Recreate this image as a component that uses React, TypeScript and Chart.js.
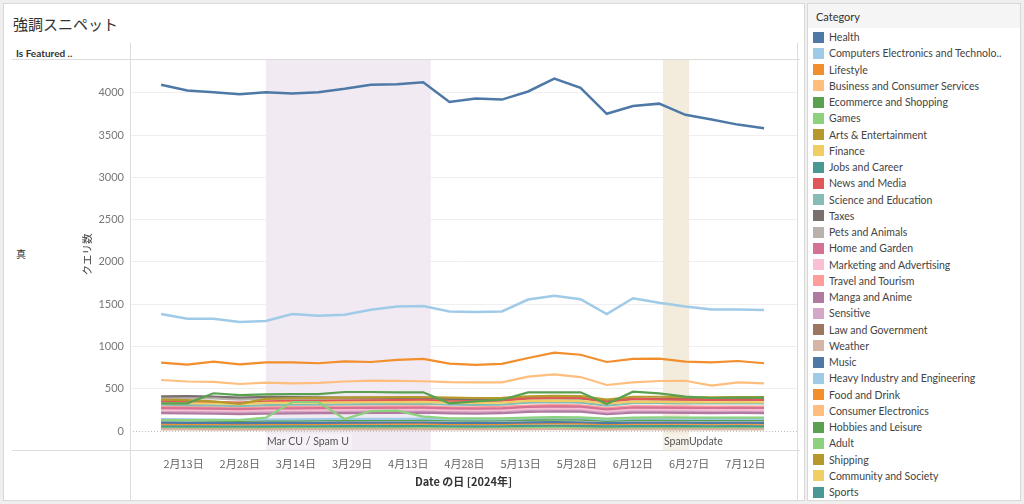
import React, { useEffect, useRef } from 'react';
import { Chart, registerables } from 'chart.js';

Chart.register(...registerables);

const FONT = 'Lato, "Noto Sans CJK JP", "Noto Sans", sans-serif';
const CJK = '"Noto Sans CJK JP", Lato, sans-serif';

const chartTitle = '強調スニペット';
const rowHeader = 'Is Featured ..';
const rowLabel = '真';
const yAxisTitle = 'クエリ数';
const xAxisTitle = 'Date の日 [2024年]';
const legendTitle = 'Category';

const weekDates = [
  '2024-02-07', '2024-02-14', '2024-02-21', '2024-02-28', '2024-03-06', '2024-03-13',
  '2024-03-20', '2024-03-27', '2024-04-03', '2024-04-10', '2024-04-17', '2024-04-24',
  '2024-05-01', '2024-05-08', '2024-05-15', '2024-05-22', '2024-05-29', '2024-06-05',
  '2024-06-12', '2024-06-19', '2024-06-26', '2024-07-03', '2024-07-10', '2024-07-17',
];

const tickDates = [
  '2024-02-13', '2024-02-28', '2024-03-14', '2024-03-29', '2024-04-13', '2024-04-28',
  '2024-05-13', '2024-05-28', '2024-06-12', '2024-06-27', '2024-07-12',
];
const tickLabels = [
  '2月13日', '2月28日', '3月14日', '3月29日', '4月13日', '4月28日',
  '5月13日', '5月28日', '6月12日', '6月27日', '7月12日',
];
const yTickValues = [0, 500, 1000, 1500, 2000, 2500, 3000, 3500, 4000];

const bandLabels = ['Mar CU / Spam U', 'SpamUpdate'];
const bandStarts = ['2024-03-06', '2024-06-20'];
const bandEnds = ['2024-04-19', '2024-06-27'];
const bandColors = ['#f1eaf3', '#f3ecdd'];

const categories = [
  'Health', 'Computers Electronics and Technolo..', 'Lifestyle', 'Business and Consumer Services',
  'Ecommerce and Shopping', 'Games', 'Arts & Entertainment', 'Finance', 'Jobs and Career',
  'News and Media', 'Science and Education', 'Taxes', 'Pets and Animals', 'Home and Garden',
  'Marketing and Advertising', 'Travel and Tourism', 'Manga and Anime', 'Sensitive',
  'Law and Government', 'Weather', 'Music', 'Heavy Industry and Engineering', 'Food and Drink',
  'Consumer Electronics', 'Hobbies and Leisure', 'Adult', 'Shipping', 'Community and Society', 'Sports',
];

const colors = [
  '#4e79a7', '#a0cbe8', '#f28e2b', '#ffbe7d', '#59a14f', '#8cd17d', '#b6992d', '#f1ce63', '#499894',
  '#e15759', '#86bcb6', '#79706e', '#bab0ac', '#d37295', '#fabfd2', '#ff9d9a', '#b07aa1', '#d4a6c8',
  '#9d7660', '#d7b5a6', '#4e79a7', '#a0cbe8', '#f28e2b', '#ffbe7d', '#59a14f', '#8cd17d', '#b6992d',
  '#f1ce63', '#499894',
];

const health = [4096, 4028, 4008, 3984, 4008, 3992, 4008, 4048, 4096, 4100, 4124, 3892, 3932, 3920, 4016, 4168, 4060, 3752, 3844, 3872, 3740, 3684, 3624, 3580];
const computers = [1383, 1328, 1328, 1289, 1301, 1383, 1363, 1375, 1434, 1473, 1477, 1414, 1406, 1414, 1555, 1598, 1559, 1383, 1570, 1516, 1473, 1438, 1438, 1430];
const lifestyle = [809, 785, 820, 789, 812, 812, 801, 824, 816, 840, 852, 797, 781, 793, 863, 926, 902, 816, 852, 855, 820, 812, 828, 801];
const business = [603, 585, 580, 556, 572, 562, 570, 585, 595, 592, 588, 578, 575, 576, 642, 670, 638, 544, 575, 591, 594, 536, 575, 564];
const ecommerce = [327, 327, 446, 425, 433, 437, 437, 461, 461, 457, 457, 327, 350, 370, 457, 457, 457, 320, 465, 445, 406, 390, 395, 395];
const games = [130, 130, 130, 130, 158, 343, 343, 142, 235, 240, 170, 150, 150, 150, 158, 165, 160, 145, 158, 160, 158, 158, 158, 158];
const arts = [370, 365, 350, 320, 380, 390, 392, 395, 398, 400, 402, 395, 390, 392, 410, 415, 412, 370, 405, 405, 400, 398, 400, 400];
const finance = [330, 328, 325, 318, 332, 335, 336, 338, 340, 342, 345, 335, 332, 335, 355, 360, 355, 325, 348, 345, 342, 340, 342, 340];
const jobs = [55, 54, 55, 53, 55, 56, 56, 57, 58, 58, 59, 56, 55, 56, 60, 62, 61, 55, 58, 58, 57, 56, 57, 56];
const news = [350, 345, 342, 335, 350, 355, 356, 358, 362, 365, 368, 350, 352, 360, 385, 395, 390, 345, 380, 375, 370, 368, 370, 368];
const science = [310, 305, 302, 295, 305, 310, 312, 315, 318, 320, 322, 310, 308, 312, 335, 340, 335, 300, 328, 330, 326, 325, 326, 325];
const taxes = [410, 412, 408, 395, 405, 400, 398, 396, 395, 392, 390, 380, 378, 380, 390, 392, 388, 360, 382, 380, 378, 375, 376, 375];
const pets = [390, 388, 385, 372, 382, 380, 378, 378, 376, 375, 374, 365, 362, 365, 378, 382, 378, 350, 372, 370, 368, 366, 368, 366];
const homeGarden = [270, 268, 265, 258, 266, 268, 270, 272, 274, 275, 276, 268, 265, 268, 285, 292, 288, 255, 278, 276, 274, 272, 273, 272];
const marketing = [250, 248, 245, 240, 246, 248, 250, 252, 254, 255, 256, 248, 246, 250, 265, 270, 266, 238, 258, 256, 254, 252, 253, 252];
const travel = [285, 283, 280, 272, 280, 282, 284, 286, 288, 290, 292, 282, 280, 284, 300, 308, 304, 270, 294, 292, 290, 288, 289, 288];
const manga = [210, 208, 205, 200, 206, 208, 210, 212, 214, 215, 216, 208, 206, 210, 225, 232, 228, 198, 218, 216, 214, 212, 213, 212];
const sensitive = [232, 230, 228, 222, 228, 230, 232, 234, 236, 238, 238, 230, 228, 232, 248, 255, 250, 220, 240, 238, 236, 235, 236, 235];
const law = [262, 260, 258, 250, 258, 260, 262, 265, 268, 270, 272, 262, 260, 265, 285, 295, 290, 252, 278, 276, 274, 272, 273, 272];
const weather = [18, 18, 17, 16, 17, 18, 18, 18, 19, 19, 19, 18, 18, 18, 20, 21, 20, 17, 19, 19, 19, 18, 19, 18];
const music = [98, 96, 95, 92, 95, 96, 97, 98, 99, 100, 100, 96, 95, 96, 102, 105, 103, 92, 99, 99, 98, 97, 98, 97];
const heavyIndustry = [140, 138, 136, 132, 136, 138, 140, 142, 143, 144, 145, 140, 138, 140, 150, 155, 152, 135, 146, 145, 144, 143, 144, 143];
const food = [85, 84, 83, 80, 83, 84, 85, 86, 87, 88, 88, 85, 84, 85, 90, 93, 91, 82, 87, 87, 86, 86, 86, 86];
const consumerElectronics = [68, 67, 66, 64, 66, 67, 68, 68, 69, 70, 70, 67, 66, 67, 71, 73, 72, 65, 69, 69, 68, 68, 68, 68];
const hobbies = [125, 124, 122, 118, 122, 123, 124, 126, 127, 128, 128, 124, 122, 124, 132, 135, 133, 120, 128, 128, 127, 126, 127, 126];
const adult = [42, 42, 41, 40, 41, 42, 42, 43, 43, 44, 44, 42, 42, 42, 45, 46, 45, 41, 43, 43, 43, 42, 43, 42];
const shipping = [30, 30, 29, 28, 29, 30, 30, 30, 31, 31, 31, 30, 29, 30, 32, 33, 32, 29, 31, 31, 30, 30, 30, 30];
const community = [38, 37, 37, 35, 37, 37, 38, 38, 39, 39, 39, 38, 37, 38, 40, 41, 40, 36, 39, 39, 38, 38, 38, 38];
const sports = [62, 61, 60, 58, 60, 61, 62, 62, 63, 64, 64, 61, 60, 61, 65, 67, 66, 59, 63, 63, 62, 62, 62, 62];

const seriesValues = [
  health, computers, lifestyle, business, ecommerce, games, arts, finance, jobs, news, science, taxes,
  pets, homeGarden, marketing, travel, manga, sensitive, law, weather, music, heavyIndustry, food,
  consumerElectronics, hobbies, adult, shipping, community, sports,
];

const BASE = Date.UTC(2024, 1, 13);
const dayOf = (s: string) => (new Date(s + 'T00:00:00Z').getTime() - BASE) / 86400000;
const tickDays = tickDates.map(dayOf);

const framePlugin = {
  id: 'frame',
  beforeDatasetsDraw(chart: any) {
    const { ctx, chartArea: a, scales } = chart;
    const x = scales.x;
    const y = scales.y;
    ctx.save();
    for (let i = 0; i < bandLabels.length; i++) {
      const x1 = x.getPixelForValue(dayOf(bandStarts[i]));
      const x2 = x.getPixelForValue(dayOf(bandEnds[i]));
      ctx.fillStyle = bandColors[i];
      ctx.fillRect(x1, a.top, x2 - x1, a.bottom - a.top);
    }
    const y0 = Math.round(y.getPixelForValue(0)) + 0.5;
    ctx.strokeStyle = '#bdbdbd';
    ctx.lineWidth = 1;
    ctx.setLineDash([1, 2]);
    ctx.beginPath();
    ctx.moveTo(a.left, y0);
    ctx.lineTo(a.right, y0);
    ctx.stroke();
    ctx.setLineDash([]);
    ctx.font = `10.5px ${FONT}`;
    ctx.textBaseline = 'middle';
    for (let i = 0; i < bandLabels.length; i++) {
      const x1 = x.getPixelForValue(dayOf(bandStarts[i]));
      const tw = ctx.measureText(bandLabels[i]).width;
      const ym = (y0 + a.bottom) / 2 + 1;
      ctx.fillStyle = 'rgba(255,255,255,0.35)';
      ctx.fillRect(x1, ym - 8, tw + 4, 16);
      ctx.fillStyle = '#555';
      ctx.fillText(bandLabels[i], x1 + 1, ym);
    }
    ctx.restore();
  },
  afterDraw(chart: any) {
    const { ctx, chartArea: a } = chart;
    ctx.save();
    ctx.strokeStyle = '#dcdcdc';
    ctx.lineWidth = 1;
    ctx.beginPath();
    ctx.moveTo(8, Math.round(a.top) + 0.5);
    ctx.lineTo(796, Math.round(a.top) + 0.5);
    ctx.moveTo(8, Math.round(a.bottom) + 0.5);
    ctx.lineTo(796, Math.round(a.bottom) + 0.5);
    ctx.moveTo(Math.round(a.left) + 0.5, 39);
    ctx.lineTo(Math.round(a.left) + 0.5, 496);
    ctx.moveTo(Math.round(a.right) + 0.5, 39);
    ctx.lineTo(Math.round(a.right) + 0.5, 496);
    ctx.stroke();
    ctx.restore();
  },
};

function LineChart() {
  const ref = useRef<HTMLCanvasElement | null>(null);
  useEffect(() => {
    if (!ref.current) return;
    const datasets = categories.map((c, i) => ({
      label: c,
      data: weekDates.map((d, j) => ({ x: dayOf(d), y: seriesValues[i][j] })),
      borderColor: colors[i],
      backgroundColor: colors[i],
      borderWidth: i < 2 ? 2.5 : 2.2,
      pointRadius: 0,
      tension: 0,
      fill: false,
    }));
    const chart = new Chart(ref.current, {
      type: 'line',
      data: { datasets },
      plugins: [framePlugin],
      options: {
        animation: false,
        responsive: true,
        maintainAspectRatio: false,
        layout: { padding: { left: 73, top: 55, right: 7, bottom: 0 } },
        plugins: { legend: { display: false }, tooltip: { enabled: false } },
        scales: {
          x: {
            type: 'linear',
            min: -14.3,
            max: 163.8,
            afterBuildTicks: (s: any) => { s.ticks = tickDays.map((v) => ({ value: v })); },
            afterFit: (s: any) => { s.height = 50; },
            grid: { display: false, drawTicks: false },
            border: { display: false },
            ticks: {
              autoSkip: false,
              maxRotation: 0,
              padding: 7,
              color: '#666',
              font: { family: CJK, size: 11 },
              callback: (_v: any, i: number) => tickLabels[i],
            },
            title: {
              display: true,
              text: xAxisTitle,
              color: '#333',
              font: { family: CJK, size: 11, weight: 'bold' },
              padding: { top: 0, bottom: 12 },
            },
          },
          y: {
            type: 'linear',
            min: -225,
            max: 4400,
            afterBuildTicks: (s: any) => { s.ticks = yTickValues.map((v) => ({ value: v })); },
            afterFit: (s: any) => { s.width = 53; },
            grid: {
              drawTicks: false,
              color: (c: any) => (c.tick && c.tick.value === 0 ? 'rgba(0,0,0,0)' : '#efefef'),
            },
            border: { display: false },
            ticks: {
              padding: 6,
              color: '#777',
              font: { family: FONT, size: 11 },
              callback: (v: any) => String(v),
            },
            title: {
              display: true,
              text: yAxisTitle,
              color: '#444',
              font: { family: CJK, size: 10.5 },
              padding: { top: 4, bottom: 0 },
            },
          },
        },
      },
    });
    return () => chart.destroy();
  }, []);
  return <canvas ref={ref} />;
}

export default function App() {
  return (
    <div style={{ position: 'fixed', left: 0, top: 0, width: 1024, height: 504, background: '#efefef', fontFamily: FONT, overflow: 'hidden' }}>
      <div style={{ position: 'absolute', left: 3, top: 3, width: 800, height: 496, background: '#fff', border: '1px solid #d9d9d9' }} />
      <div style={{ position: 'absolute', left: 807, top: 3, width: 212, height: 496, background: '#fff', border: '1px solid #d9d9d9' }} />
      <div style={{ position: 'absolute', left: 13, top: 12, fontFamily: CJK, fontSize: 15, color: '#333', lineHeight: '24px', whiteSpace: 'nowrap' }}>{chartTitle}</div>
      <div style={{ position: 'absolute', left: 16, top: 46, fontSize: 10, fontWeight: 'bold', color: '#333', lineHeight: '14px', whiteSpace: 'nowrap' }}>{rowHeader}</div>
      <div style={{ position: 'absolute', left: 16, top: 246, fontFamily: CJK, fontSize: 10, color: '#333', lineHeight: '16px' }}>{rowLabel}</div>
      <div style={{ position: 'absolute', left: 4, top: 4, width: 800, height: 496 }}>
        <LineChart />
      </div>
      <div style={{ position: 'absolute', left: 808, top: 4, width: 212, height: 24, background: '#f5f5f5', fontSize: 11, color: '#333', lineHeight: '26px', paddingLeft: 8, boxSizing: 'border-box' }}>{legendTitle}</div>
      <div style={{ position: 'absolute', left: 813, top: 29, width: 205 }}>
        {categories.map((c, i) => (
          <div key={c} style={{ display: 'flex', alignItems: 'center', height: 16.25 }}>
            <div style={{ width: 11, height: 11, background: colors[i], flex: '0 0 11px' }} />
            <div style={{ marginLeft: 5, fontSize: 10.5, color: '#444', whiteSpace: 'nowrap', lineHeight: '16px' }}>{c}</div>
          </div>
        ))}
      </div>
    </div>
  );
}
